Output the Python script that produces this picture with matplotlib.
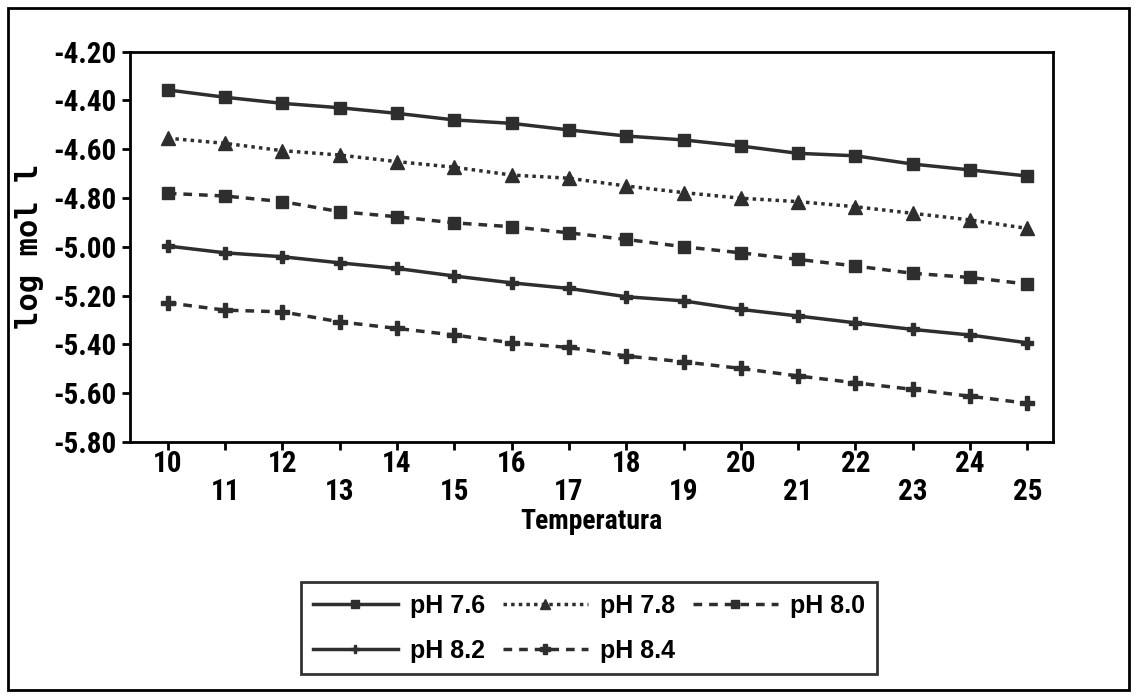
import matplotlib.pyplot as plt
from matplotlib.patches import Rectangle
from matplotlib import font_manager

temps = list(range(10, 26))
ph76 = [-4.357, -4.387, -4.412, -4.430, -4.453, -4.480, -4.494, -4.521,
        -4.546, -4.562, -4.587, -4.617, -4.627, -4.661, -4.685, -4.710]
ph78 = [-4.555, -4.576, -4.606, -4.624, -4.651, -4.674, -4.706, -4.719,
        -4.751, -4.778, -4.801, -4.815, -4.836, -4.863, -4.890, -4.925]
ph80 = [-4.781, -4.792, -4.815, -4.856, -4.877, -4.902, -4.918, -4.943,
        -4.970, -5.000, -5.025, -5.052, -5.079, -5.109, -5.126, -5.153]
ph82 = [-4.997, -5.025, -5.041, -5.066, -5.089, -5.120, -5.148, -5.171,
        -5.205, -5.222, -5.257, -5.284, -5.312, -5.339, -5.362, -5.394]
ph84 = [-5.230, -5.260, -5.267, -5.308, -5.335, -5.362, -5.394, -5.413,
        -5.448, -5.472, -5.499, -5.530, -5.558, -5.585, -5.613, -5.642]
labels = ["pH 7.6", "pH 7.8", "pH 8.0", "pH 8.2", "pH 8.4"]
yticks = [-5.8, -5.6, -5.4, -5.2, -5.0, -4.8, -4.6, -4.4, -4.2]

# narrow bold font for the ticks if one is around
names = {f.name for f in font_manager.fontManager.ttflist}
narrow = "DejaVu Sans"
for n in ["Liberation Sans Narrow", "DejaVu Sans Condensed", "Roboto Condensed"]:
    if n in names:
        narrow = n
        break

col = "#2e2e2e"
tickfont = dict(family=narrow, weight="bold", size=21, stretch="condensed")

fig = plt.figure(figsize=(11.37, 6.98), dpi=100)
fig.patches.append(Rectangle((0.007, 0.011), 0.986, 0.977, transform=fig.transFigure,
                             fill=False, lw=2, ec="black"))
ax = fig.add_axes([0.1143, 0.367, 0.812, 0.559])

h1, = ax.plot(temps, ph76, color=col, lw=2.5, ls="-", marker="s", ms=9)
h2, = ax.plot(temps, ph78, color=col, lw=2.5, ls=(0, (1, 1.2)), marker="^", ms=10)
h3, = ax.plot(temps, ph80, color=col, lw=2.5, ls=(0, (2.5, 2)), marker="s", ms=9)
h4, = ax.plot(temps, ph82, color=col, lw=2.5, ls="-", marker="P", ms=9)
h5, = ax.plot(temps, ph84, color=col, lw=2.5, ls=(0, (2.5, 2)), marker="P", ms=10)

ax.set_xlim(9.34, 25.45)
ax.set_ylim(-5.80, -4.20)
ax.set_yticks(yticks)
ax.set_yticklabels(["%.2f" % v for v in yticks], fontdict=tickfont)
ax.set_xticks(temps)
ax.set_xticklabels([str(t) if t % 2 == 0 else "\n" + str(t) for t in temps], fontdict=tickfont,
                   linespacing=1.0)
ax.tick_params(axis="y", direction="out", length=6, width=2, color="black", pad=4)
ax.tick_params(axis="x", direction="out", length=6, width=2, color="black", pad=0)
for s in ax.spines.values():
    s.set_linewidth(2)

ax.set_xlabel("Temperatura", fontdict=dict(family=narrow, weight="bold", size=20,
                                            stretch="condensed"), labelpad=1)
ax.set_ylabel("log mol l", fontdict=dict(family="DejaVu Sans Mono", weight="bold", size=22),
              labelpad=6)

handles = [h1, h4, h2, h5, h3]
leg_labels = [labels[0], labels[3], labels[1], labels[4], labels[2]]
leg = fig.legend(handles, leg_labels, ncol=3, loc="center", bbox_to_anchor=(0.518, 0.1),
                 frameon=True, fancybox=False, edgecolor="black", handlelength=3.4,
                 columnspacing=0.7, handletextpad=0.5, labelspacing=0.85, borderpad=0.45,
                 prop=dict(family="Liberation Sans", weight="bold", size=18), markerscale=0.7)
leg.get_frame().set_linewidth(2)

fig.savefig("out.png", dpi=100)
